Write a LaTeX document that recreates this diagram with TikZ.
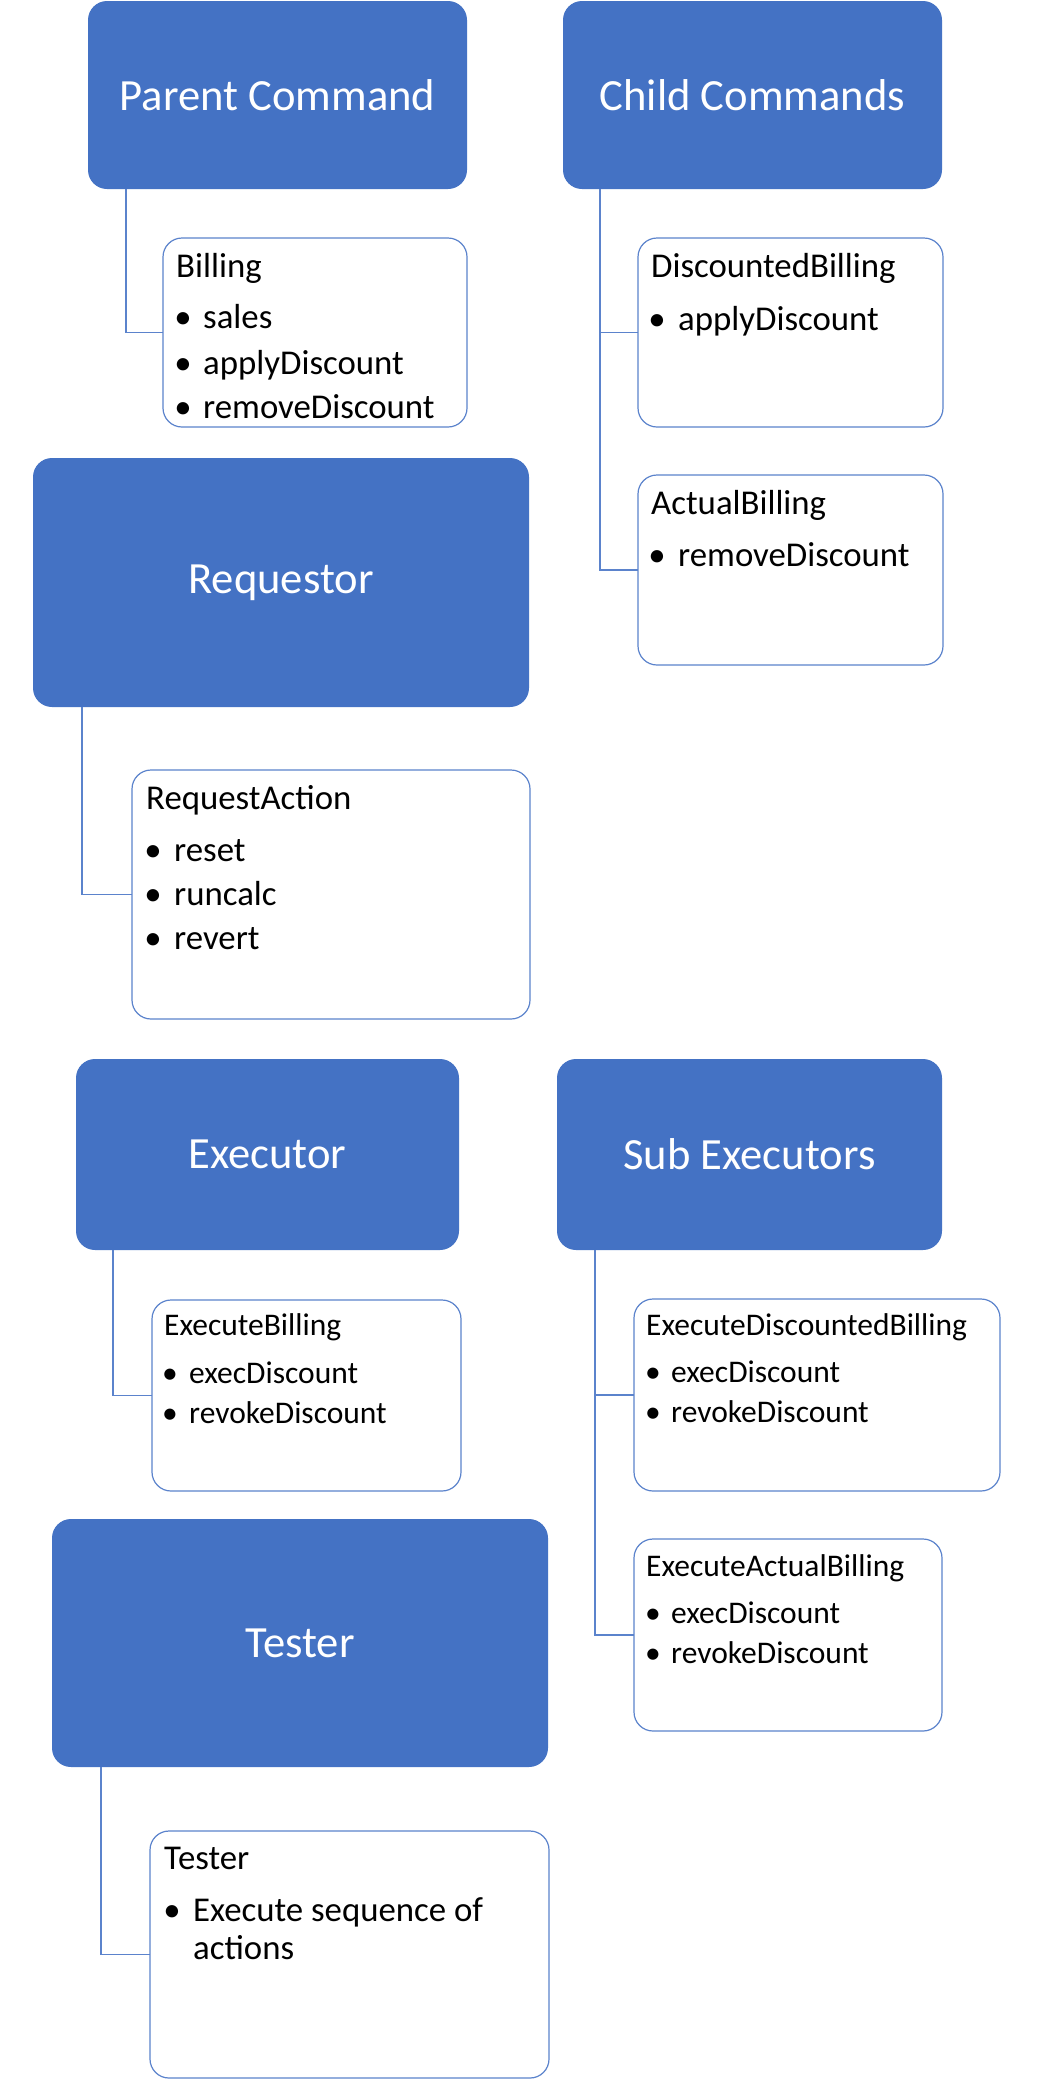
\documentclass[tikz,border=0pt]{standalone}
\usepackage{fontspec}
\setmainfont{Carlito}
\definecolor{hblue}{HTML}{4472C4}
\definecolor{cblue}{HTML}{5B83CC}
\begin{document}
\begin{tikzpicture}[x=1pt,y=-1pt,
  head/.style={fill=hblue, draw=none, rounded corners=19pt, inner sep=0pt, outer sep=0pt,
    text=white, font=\fontsize{44.6}{52}\selectfont},
  card/.style={draw=cblue, line width=1.2pt, fill=white, rounded corners=19pt, inner sep=0pt, outer sep=0pt},
  big/.style={font=\fontsize{34.8}{40}\selectfont},
  mid/.style={font=\fontsize{31.5}{37}\selectfont},
  txt/.style={anchor=base west, inner sep=0pt, text=black},
  bul/.style={anchor=base, inner sep=0pt, text=black},
  link/.style={draw=cblue, line width=1.3pt}
]
\useasboundingbox (0,0) rectangle (1042,2096);
\fill[white] (0,0) rectangle (1042,2096);

% ---------- top row ----------
\node[head, minimum width=379pt, minimum height=188pt] (pc) at (277.5,95) {Parent Command};
\node[card, minimum width=304pt, minimum height=189pt] (bill) at (315,332.5) {};
\node[head, minimum width=379pt, minimum height=188pt] (cc) at (752.5,95) {Child Commands};
\node[card, minimum width=305pt, minimum height=189pt] (db) at (790.5,332.5) {};
\node[card, minimum width=305pt, minimum height=190pt] (ab) at (790.5,570) {};

\draw[link] ([xshift=38pt]pc.south west) |- (bill.west);
\draw[link] ([xshift=37pt]cc.south west) |- (db.west);
\draw[link] ([xshift=37pt]cc.south west) |- (ab.west);

\begin{scope}[every node/.append style={big}]
\node[txt] (billT) at (176,277) {Billing};
\node[bul] (billB1) at (183,328) {•};
\node[txt] (billL1) at (203,328) {sales};
\node[bul] (billB2) at (183,374) {•};
\node[txt] (billL2) at (203,374) {applyDiscount};
\node[bul] (billB3) at (183,418) {•};
\node[txt] (billL3) at (203,418) {removeDiscount};

\node[txt] (dbT) at (651,277) {DiscountedBilling};
\node[bul] (dbB1) at (657,330) {•};
\node[txt] (dbL1) at (678,330) {applyDiscount};

\node[txt] (abT) at (651,514) {ActualBilling};
\node[bul] (abB1) at (657,566) {•};
\node[txt] (abL1) at (678,566) {removeDiscount};
\end{scope}

% ---------- requestor ----------
\node[head, minimum width=496pt, minimum height=249pt] (req) at (281,582.5) {Requestor};
\node[card, minimum width=398pt, minimum height=249pt] (ra) at (331,894.5) {};
\draw[link] ([xshift=49pt]req.south west) |- (ra.west);
\begin{scope}[every node/.append style={big}]
\node[txt] (raT) at (146,809) {RequestAction};
\node[bul] (raB1) at (153,861) {•};
\node[txt] (raL1) at (174,861) {reset};
\node[bul] (raB2) at (153,905) {•};
\node[txt] (raL2) at (174,905) {runcalc};
\node[bul] (raB3) at (153,949) {•};
\node[txt] (raL3) at (174,949) {revert};
\end{scope}

% ---------- executors ----------
\node[head, minimum width=383pt, minimum height=191pt] (ex) at (267.5,1154.5) {Executor};
\node[card, minimum width=309pt, minimum height=191pt] (eb) at (306.5,1395.5) {};
\draw[link] ([xshift=37pt]ex.south west) |- (eb.west);

\node[head, minimum width=385pt, minimum height=191pt] (se) at (749.5,1154.5) {Sub Executors};
\node[card, minimum width=366pt, minimum height=192pt] (edb) at (817,1395) {};
\node[card, minimum width=308pt, minimum height=192pt] (eab) at (788,1635) {};
\draw[link] ([xshift=38pt]se.south west) |- (edb.west);
\draw[link] ([xshift=38pt]se.south west) |- (eab.west);

\begin{scope}[every node/.append style={mid}]
\node[txt] (ebT) at (164,1335) {ExecuteBilling};
\node[bul] (ebB1) at (170,1383) {•};
\node[txt] (ebL1) at (189,1383) {execDiscount};
\node[bul] (ebB2) at (170,1423) {•};
\node[txt] (ebL2) at (189,1423) {revokeDiscount};

\node[txt] (edbT) at (646,1335) {ExecuteDiscountedBilling};
\node[bul] (edbB1) at (653,1382) {•};
\node[txt] (edbL1) at (671,1382) {execDiscount};
\node[bul] (edbB2) at (653,1422) {•};
\node[txt] (edbL2) at (671,1422) {revokeDiscount};

\node[txt] (eabT) at (646,1576) {ExecuteActualBilling};
\node[bul] (eabB1) at (653,1623) {•};
\node[txt] (eabL1) at (671,1623) {execDiscount};
\node[bul] (eabB2) at (653,1663) {•};
\node[txt] (eabL2) at (671,1663) {revokeDiscount};
\end{scope}

% ---------- tester ----------
\node[head, minimum width=496pt, minimum height=248pt] (tst) at (300,1643) {Tester};
\node[card, minimum width=399pt, minimum height=247pt] (tsb) at (349.5,1954.5) {};
\draw[link] ([xshift=49pt]tst.south west) |- (tsb.west);
\begin{scope}[every node/.append style={big}]
\node[txt] (tsbT) at (164,1869) {Tester};
\node[bul] (tsbB1) at (172,1921) {•};
\node[txt] (tsbL1) at (193,1921) {Execute sequence of};
\node[txt] (tsbL2) at (193,1959) {actions};
\end{scope}
\end{tikzpicture}
\end{document}
